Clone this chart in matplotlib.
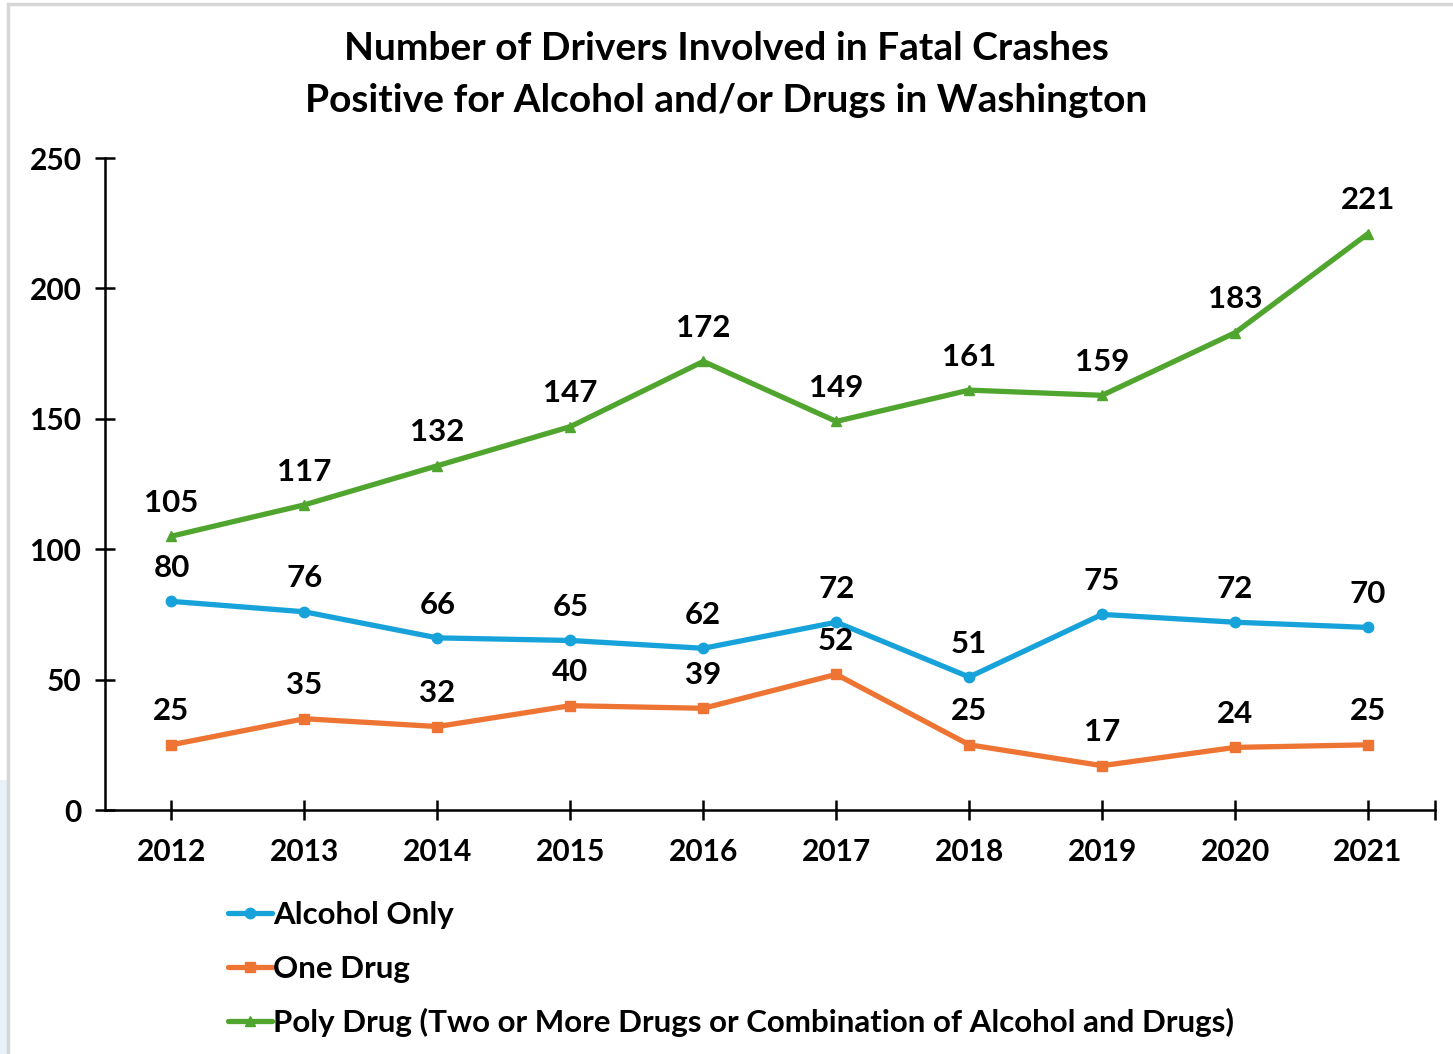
import matplotlib.pyplot as plt
from matplotlib.patches import Rectangle

years = ["2012", "2013", "2014", "2015", "2016", "2017", "2018", "2019", "2020", "2021"]
alcohol_only = [80, 76, 66, 65, 62, 72, 51, 75, 72, 70]
one_drug = [25, 35, 32, 40, 39, 52, 25, 17, 24, 25]
poly_drug = [105, 117, 132, 147, 172, 149, 161, 159, 183, 221]

series = [
    ("Alcohol Only", alcohol_only, "#17A2DA", "o", 7.5),
    ("One Drug", one_drug, "#EE7434", "s", 7.5),
    ("Poly Drug (Two or More Drugs or Combination of Alcohol and Drugs)", poly_drug, "#4FA52E", "^", 7.5),
]

plt.rcParams["font.family"] = ["Lato", "DejaVu Sans"]
plt.rcParams["font.weight"] = "bold"
WT = "bold"

W, H = 1453, 1054
fig = plt.figure(figsize=(W / 100, H / 100), dpi=100)

# faint frame of the screenshot
fig.patches.append(Rectangle((0, 0), 8 / W, (1054 - 780) / H, transform=fig.transFigure,
                             facecolor="#E8F0F8", edgecolor="none", zorder=0))
fig.patches.append(Rectangle((8 / W, -0.01), 1.2, 1 - 4 / H + 0.01, transform=fig.transFigure,
                             facecolor="none", edgecolor="#D6D6D6", linewidth=2.5, zorder=1))

ax = fig.add_axes([105 / W, 1 - 810 / H, (1434.5 - 105) / W, (810 - 158) / H])
x = list(range(len(years)))

for label, vals, color, marker, ms in series:
    ax.plot(x, vals, color=color, linewidth=3.8, marker=marker, markersize=ms,
            label=label, solid_capstyle="round", zorder=3)
    for xi, v in zip(x, vals):
        ax.annotate(str(v), (xi, v), xytext=(0, 24), textcoords="offset points",
                    ha="center", va="center", fontsize=22.5, fontweight=WT)

ax.set_xlim(-0.5, 9.5)
ax.set_ylim(0, 250)
ax.set_yticks([0, 50, 100, 150, 200, 250])
ax.set_xticks(x + [9.5])
ax.set_xticklabels(years + [""])
ax.tick_params(axis="both", direction="inout", length=14, width=1.8, labelsize=21.5)
ax.tick_params(axis="x", pad=13)
ax.tick_params(axis="y", pad=10)
for lbl in ax.get_xticklabels() + ax.get_yticklabels():
    lbl.set_fontweight(WT)

for side in ["top", "right"]:
    ax.spines[side].set_visible(False)
for side in ["left", "bottom"]:
    ax.spines[side].set_linewidth(1.8)

fig.text(0.5, 1 - 48 / H, "Number of Drivers Involved in Fatal Crashes", ha="center", va="center",
         fontsize=28, fontweight=WT)
fig.text(0.5, 1 - 100 / H, "Positive for Alcohol and/or Drugs in Washington", ha="center", va="center",
         fontsize=28, fontweight=WT)

fig.legend(loc="upper left", bbox_to_anchor=(228 / W, 1 - 901 / H), frameon=False,
           handlelength=1.4, handletextpad=0.05, labelspacing=0.82,
           borderaxespad=0, borderpad=0, prop={"size": 22.5, "weight": WT})

fig.savefig("out.png", dpi=100)
